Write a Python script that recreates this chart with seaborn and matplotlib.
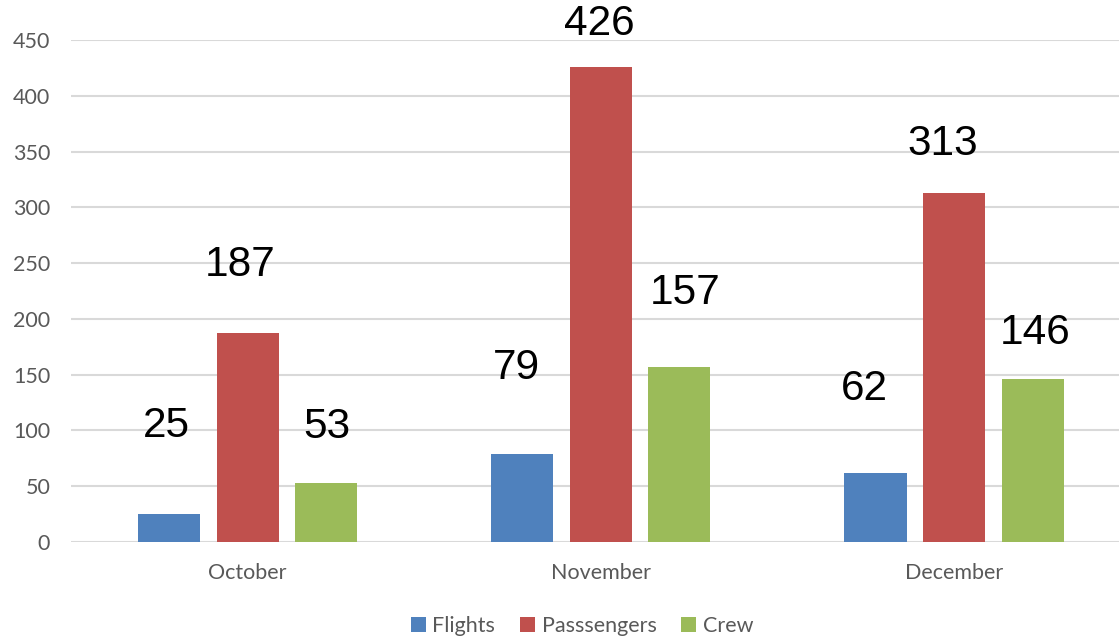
import pandas as pd
import seaborn as sns
import matplotlib.pyplot as plt

months = ["October", "November", "December"]
series = ["Flights", "Passsengers", "Crew"]
flights = [25, 79, 62]
passengers = [187, 426, 313]
crew = [53, 157, 146]

COLORS = ["#4F81BD", "#C0504D", "#9BBB59"]
# label offsets in pixels (dx, dy from bar top), per series then month
LABEL_DX = [[-3, -6, -11], [-7, -2, -11], [1, 6, 3]]
LABEL_DY = [[88, 86, 84], [68, 43, 49], [56, 74, 46]]

rows = []
for name, vals in zip(series, [flights, passengers, crew]):
    for m, v in zip(months, vals):
        rows.append({"month": m, "series": name, "value": v})
df = pd.DataFrame(rows)

sns.set_theme(style="white")
plt.rcParams['font.family'] = ['Lato', 'DejaVu Sans']

fig = plt.figure(figsize=(11.19, 6.37), dpi=100)
ax = fig.add_axes([71 / 1119, 95 / 637, (1119 - 71) / 1119, (542 - 40) / 637])

sns.barplot(data=df, x="month", y="value", hue="series", palette=COLORS,
            width=0.667, gap=0.21, errorbar=None, saturation=1, ax=ax,
            linewidth=0, zorder=3)

ax.set_ylim(0, 450)
ax.set_xlim(-0.5, 2.467)
ax.set_yticks(range(0, 451, 50))
ax.yaxis.grid(True, color="#D9D9D9", linewidth=1.5, zorder=0)
ax.set_axisbelow(True)
for s in ax.spines.values():
    s.set_visible(False)
ax.tick_params(axis="both", length=0, labelsize=15.5, colors="#595959")
ax.tick_params(axis="y", pad=15)
ax.tick_params(axis="x", pad=15)
ax.set_xlabel("")
ax.set_ylabel("")

for i, cont in enumerate(ax.containers):
    for j, bar in enumerate(cont):
        h = bar.get_height()
        ax.annotate(str(int(h)), (bar.get_x() + bar.get_width() / 2, h),
                    xytext=(LABEL_DX[i][j], LABEL_DY[i][j]), textcoords="offset pixels",
                    ha="center", va="center", fontsize=30.5, color="black",
                    family=["Liberation Sans", "DejaVu Sans"], annotation_clip=False)

handles, labels = ax.get_legend_handles_labels()
ax.legend(handles, labels, loc="center", bbox_to_anchor=(582 / 1119, 11 / 637),
          bbox_transform=fig.transFigure, ncol=3, frameon=False,
          handlelength=0.7, handleheight=0.7, handletextpad=0.3,
          columnspacing=1.15, fontsize=15.5, labelcolor="#595959")

fig.savefig("out.png", dpi=100)
